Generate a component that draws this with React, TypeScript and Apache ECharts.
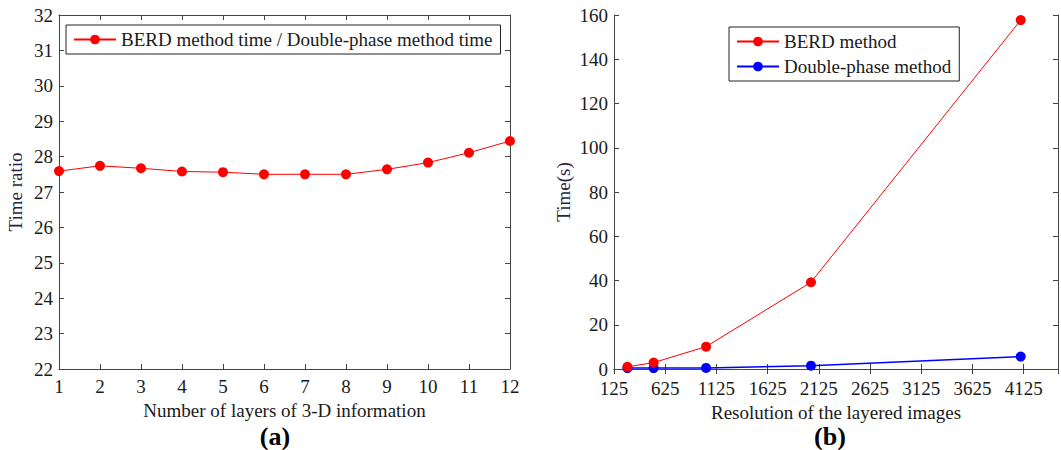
import React, { useEffect, useRef } from "react";
import * as echarts from "echarts";

// Left panel (a)
const layers = [1, 2, 3, 4, 5, 6, 7, 8, 9, 10, 11, 12];
const timeRatio = [27.59, 27.74, 27.67, 27.58, 27.56, 27.5, 27.5, 27.5, 27.64, 27.83, 28.11, 28.44];
// Right panel (b)
const resolutions = [256, 512, 1024, 2048, 4096];
const berdTime = [1.0, 2.9, 10.1, 39.2, 157.7];
const doublePhaseTime = [0.4, 0.4, 0.5, 1.5, 5.6];

const legendA = "BERD method time / Double-phase method time";
const legendB1 = "BERD method";
const legendB2 = "Double-phase method";
const xNameA = "Number of layers of 3-D information";
const yNameA = "Time ratio";
const xNameB = "Resolution of the layered images";
const yNameB = "Time(s)";

const FONT = "Liberation Serif";
const AXIS = "#444";
const TXT = "#1a1a1a";
const NAMECOL = "#2a1f3d";

export default function App() {
  const ref = useRef<HTMLDivElement>(null);
  useEffect(() => {
    if (!ref.current) return;
    const chart = echarts.init(ref.current, undefined, { renderer: "svg" });
    const lineAxis = { show: true, lineStyle: { color: AXIS, width: 1 } };
    const tick = { show: true, inside: true, length: 5, lineStyle: { color: AXIS } };
    const label = { color: TXT, fontFamily: FONT, fontSize: 19 };
    const hidden = { show: false };
    const fmtB = (v: number) => ((v - 125) % 500 === 0 ? String(v) : "");
    chart.setOption({
      animation: false,
      grid: [
        { left: 59, top: 15, width: 451, height: 354 },
        { left: 614, top: 15, width: 448, height: 354 },
      ],
      xAxis: [
        {
          type: "value", gridIndex: 0, min: 1, max: 12, interval: 1,
          axisLine: lineAxis, axisTick: tick, splitLine: hidden,
          axisLabel: { ...label, margin: 8 },
          name: xNameA, nameLocation: "middle", nameGap: 27,
          nameTextStyle: { color: TXT, fontFamily: FONT, fontSize: 19 },
        },
        {
          type: "value", gridIndex: 0, position: "top", min: 1, max: 12, interval: 1,
          axisLine: lineAxis, axisTick: tick, splitLine: hidden, axisLabel: hidden,
        },
        {
          type: "value", gridIndex: 1, min: 125, max: 4460, interval: 500,
          axisLine: lineAxis, axisTick: tick, splitLine: hidden,
          axisLabel: { ...label, margin: 10, formatter: fmtB },
          name: xNameB, nameLocation: "middle", nameGap: 27,
          nameTextStyle: { color: TXT, fontFamily: FONT, fontSize: 19 },
        },
        {
          type: "value", gridIndex: 1, position: "top", min: 125, max: 4460, interval: 500,
          axisLine: lineAxis, axisTick: tick, splitLine: hidden, axisLabel: hidden,
        },
      ],
      yAxis: [
        {
          type: "value", gridIndex: 0, min: 22, max: 32, interval: 1,
          axisLine: lineAxis, axisTick: tick, splitLine: hidden,
          axisLabel: { ...label, margin: 6 },
          name: yNameA, nameLocation: "middle", nameGap: 34, nameRotate: 90,
          nameTextStyle: { color: NAMECOL, fontFamily: FONT, fontSize: 19 },
        },
        {
          type: "value", gridIndex: 0, position: "right", min: 22, max: 32, interval: 1,
          axisLine: lineAxis, axisTick: tick, splitLine: hidden, axisLabel: hidden,
        },
        {
          type: "value", gridIndex: 1, min: 0, max: 160, interval: 20,
          axisLine: lineAxis, axisTick: tick, splitLine: hidden,
          axisLabel: { ...label, margin: 6 },
          name: yNameB, nameLocation: "middle", nameGap: 41, nameRotate: 90,
          nameTextStyle: { color: NAMECOL, fontFamily: FONT, fontSize: 19 },
        },
        {
          type: "value", gridIndex: 1, position: "right", min: 0, max: 160, interval: 20,
          axisLine: lineAxis, axisTick: tick, splitLine: hidden, axisLabel: hidden,
        },
      ],
      legend: [
        {
          data: [legendA], left: 66, top: 25, orient: "horizontal",
          borderColor: "#222", borderWidth: 1, backgroundColor: "#fff",
          padding: [5, 8, 5, 7], itemWidth: 42, itemHeight: 12,
          textStyle: { color: TXT, fontFamily: FONT, fontSize: 19 },
        },
        {
          data: [legendB1, legendB2], left: 729, top: 27, orient: "vertical",
          borderColor: "#222", borderWidth: 1, backgroundColor: "#fff",
          padding: [5, 8, 5, 7], itemWidth: 42, itemHeight: 12, itemGap: 6,
          textStyle: { color: TXT, fontFamily: FONT, fontSize: 19 },
        },
      ],
      series: [
        {
          name: legendA, type: "line", xAxisIndex: 0, yAxisIndex: 0,
          data: layers.map((x, i) => [x, timeRatio[i]]),
          symbol: "circle", symbolSize: 10, clip: false,
          lineStyle: { color: "#ff0000", width: 1 },
          itemStyle: { color: "#ff0000" },
        },
        {
          name: legendB2, type: "line", xAxisIndex: 2, yAxisIndex: 2,
          data: resolutions.map((x, i) => [x, doublePhaseTime[i]]),
          symbol: "circle", symbolSize: 10, clip: false,
          lineStyle: { color: "#0000ff", width: 1.5 },
          itemStyle: { color: "#0000ff" },
        },
        {
          name: legendB1, type: "line", xAxisIndex: 2, yAxisIndex: 2,
          data: resolutions.map((x, i) => [x, berdTime[i]]),
          symbol: "circle", symbolSize: 10, clip: false,
          lineStyle: { color: "#ff0000", width: 1 },
          itemStyle: { color: "#ff0000" },
        },
      ],
      graphic: [
        {
          type: "text", x: 275, y: 436,
          style: { text: "(a)", fontFamily: FONT, fontSize: 26, fontWeight: "bold", fill: "#000", align: "center", verticalAlign: "middle" },
        },
        {
          type: "text", x: 830, y: 436,
          style: { text: "(b)", fontFamily: FONT, fontSize: 26, fontWeight: "bold", fill: "#000", align: "center", verticalAlign: "middle" },
        },
      ],
    });
    return () => chart.dispose();
  }, []);
  return (
    <div
      ref={ref}
      style={{ position: "fixed", left: 0, top: 0, width: 1061, height: 450, background: "#fff" }}
    />
  );
}
